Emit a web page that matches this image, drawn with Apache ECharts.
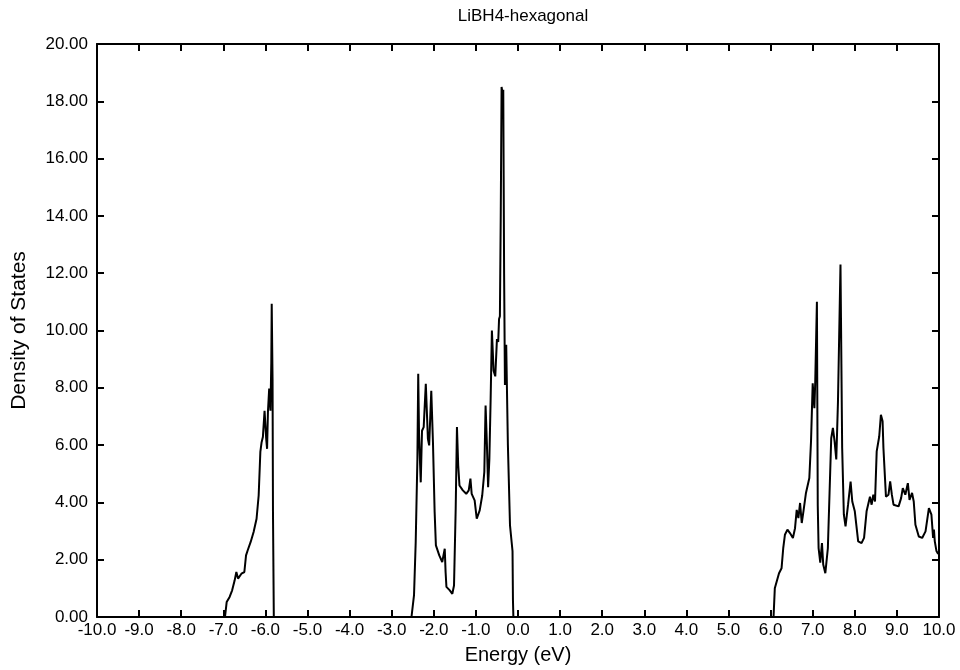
<!DOCTYPE html>
<html>
<head>
<meta charset="utf-8">
<script src="https://cdn.jsdelivr.net/npm/echarts@6/dist/echarts.min.js"></script>
<style>
  html, body { margin: 0; padding: 0; background: #fff; }
  #chart { width: 960px; height: 670px; }
</style>
</head>
<body>
<div id="chart"></div>
<script>
// Li/B-H bonding band around -6 eV
const bandAEnergy = [-6.96, -6.92, -6.85, -6.79, -6.73, -6.69, -6.65, -6.57, -6.5, -6.46, -6.42, -6.35, -6.28, -6.21, -6.16, -6.12, -6.09, -6.06, -6.02, -5.98, -5.96, -5.94, -5.91, -5.88, -5.86, -5.85, -5.83, -5.82, -5.8];
const bandADos = [0, 0.52, 0.7, 0.93, 1.28, 1.57, 1.34, 1.51, 1.57, 2.15, 2.33, 2.62, 2.97, 3.43, 4.24, 5.76, 6.1, 6.28, 7.2, 6.2, 5.87, 7.15, 7.97, 7.2, 8.88, 10.93, 8.3, 3.66, 0];

// upper valence band, -2.5 to 0 eV
const bandBEnergy = [-2.53, -2.47, -2.43, -2.39, -2.37, -2.35, -2.31, -2.28, -2.24, -2.19, -2.14, -2.11, -2.06, -2.02, -1.98, -1.95, -1.87, -1.8, -1.74, -1.72, -1.7, -1.62, -1.56, -1.52, -1.48, -1.45, -1.42, -1.39, -1.31, -1.23, -1.17, -1.13, -1.1, -1.03, -0.98, -0.91, -0.85, -0.8, -0.77, -0.74, -0.71, -0.68, -0.65, -0.62, -0.58, -0.54, -0.5, -0.47, -0.45, -0.43, -0.41, -0.39, -0.37, -0.35, -0.33, -0.31, -0.28, -0.24, -0.19, -0.15, -0.13, -0.12, -0.11];
const bandBDos = [0, 0.76, 2.6, 5.5, 8.49, 6.34, 4.7, 6.5, 6.63, 8.14, 6.22, 5.99, 7.9, 6.1, 3.66, 2.5, 2.15, 1.92, 2.38, 1.57, 1.05, 0.93, 0.81, 1.1, 3.78, 6.63, 5.29, 4.59, 4.42, 4.3, 4.42, 4.83, 4.3, 4.07, 3.43, 3.72, 4.24, 5.06, 7.38, 6.1, 4.53, 5.52, 7.6, 10.0, 8.6, 8.4, 9.7, 9.6, 10.4, 10.5, 14.0, 18.5, 18.3, 18.4, 12.0, 8.1, 9.5, 6.0, 3.2, 2.6, 2.3, 0.6, 0];

// conduction band, 6 to 10 eV
const bandCEnergy = [6.07, 6.1, 6.14, 6.2, 6.26, 6.3, 6.34, 6.4, 6.46, 6.53, 6.58, 6.62, 6.66, 6.7, 6.74, 6.78, 6.84, 6.92, 6.96, 7.0, 7.04, 7.06, 7.1, 7.12, 7.14, 7.18, 7.22, 7.25, 7.3, 7.36, 7.44, 7.48, 7.52, 7.56, 7.6, 7.66, 7.7, 7.74, 7.78, 7.84, 7.9, 7.94, 8.0, 8.08, 8.16, 8.22, 8.28, 8.36, 8.4, 8.44, 8.48, 8.52, 8.58, 8.62, 8.66, 8.68, 8.74, 8.8, 8.84, 8.88, 8.92, 9.04, 9.1, 9.14, 9.2, 9.26, 9.3, 9.36, 9.4, 9.44, 9.52, 9.6, 9.68, 9.76, 9.82, 9.86, 9.88, 9.9, 9.94, 9.98];
const bandCDos = [0, 1.0, 0.95, 1.53, 1.7, 2.4, 2.87, 3.05, 2.93, 2.76, 3.1, 3.74, 3.45, 3.98, 3.28, 3.69, 4.33, 4.85, 6.13, 8.16, 7.29, 8.2, 11.0, 3.9, 2.4, 1.9, 2.58, 1.83, 1.53, 2.4, 6.24, 6.6, 6.13, 5.5, 7.5, 12.3, 5.9, 3.57, 3.16, 3.92, 4.73, 4.03, 3.69, 2.64, 2.58, 2.76, 3.69, 4.2, 3.92, 4.27, 4.03, 5.78, 6.3, 7.06, 6.83, 5.9, 4.2, 4.27, 4.73, 4.27, 3.92, 3.86, 4.15, 4.5, 4.27, 4.67, 4.09, 4.33, 4.03, 3.22, 2.81, 2.76, 2.99, 3.8, 3.57, 2.76, 3.05, 2.64, 2.3, 2.2];

const xTickMin = -10, xTickMax = 10, xTickStep = 1;
const yTickMin = 0, yTickMax = 20, yTickStep = 2;

const pairs = (xs, ys) => xs.map((x, i) => [x, ys[i]]);
const dosData = [[xTickMin, 0]]
  .concat(pairs(bandAEnergy, bandADos))
  .concat(pairs(bandBEnergy, bandBDos))
  .concat(pairs(bandCEnergy, bandCDos));

const font = 'Liberation Sans, Arial, Helvetica, sans-serif';
const frame = { show: true, onZero: false, lineStyle: { color: '#000', width: 2 } };
const ticks = { show: true, inside: true, length: 7, lineStyle: { color: '#000', width: 2 } };

const chart = echarts.init(document.getElementById('chart'));
chart.setOption({
  animation: false,
  backgroundColor: '#fff',
  title: {
    text: 'LiBH4-hexagonal',
    left: 518,
    top: 3,
    textAlign: 'center',
    textStyle: { fontFamily: font, fontSize: 17, fontWeight: 'normal', color: '#000' }
  },
  grid: { left: 97, right: 21, top: 44, bottom: 46, containLabel: false },
  xAxis: [
    {
      type: 'value',
      min: xTickMin, max: xTickMax, interval: xTickStep,
      name: 'Energy (eV)',
      nameLocation: 'middle',
      nameGap: 28,
      nameTextStyle: { fontFamily: font, fontSize: 20, color: '#000' },
      axisLine: frame,
      axisTick: ticks,
      splitLine: { show: false },
      axisLabel: {
        fontFamily: font, fontSize: 17, color: '#000', margin: 5,
        interval: 0, hideOverlap: false, showMinLabel: true, showMaxLabel: true,
        formatter: v => v.toFixed(1)
      }
    },
    {
      type: 'value', position: 'top',
      min: xTickMin, max: xTickMax, interval: xTickStep,
      axisLine: frame, axisTick: ticks,
      axisLabel: { show: false }, splitLine: { show: false }
    }
  ],
  yAxis: [
    {
      type: 'value',
      min: yTickMin, max: yTickMax, interval: yTickStep,
      name: 'Density of States',
      nameLocation: 'middle',
      nameGap: 67,
      nameTextStyle: { fontFamily: font, fontSize: 21, color: '#000' },
      axisLine: frame,
      axisTick: ticks,
      splitLine: { show: false },
      axisLabel: {
        fontFamily: font, fontSize: 17, color: '#000', margin: 9,
        formatter: v => v.toFixed(2)
      }
    },
    {
      type: 'value', position: 'right',
      min: yTickMin, max: yTickMax, interval: yTickStep,
      axisLine: frame, axisTick: ticks,
      axisLabel: { show: false }, splitLine: { show: false }
    }
  ],
  series: [
    {
      name: 'DOS',
      type: 'line',
      data: dosData,
      showSymbol: false,
      symbol: 'none',
      lineStyle: { color: '#000', width: 2 },
      z: 1
    }
  ]
});
</script>
</body>
</html>
